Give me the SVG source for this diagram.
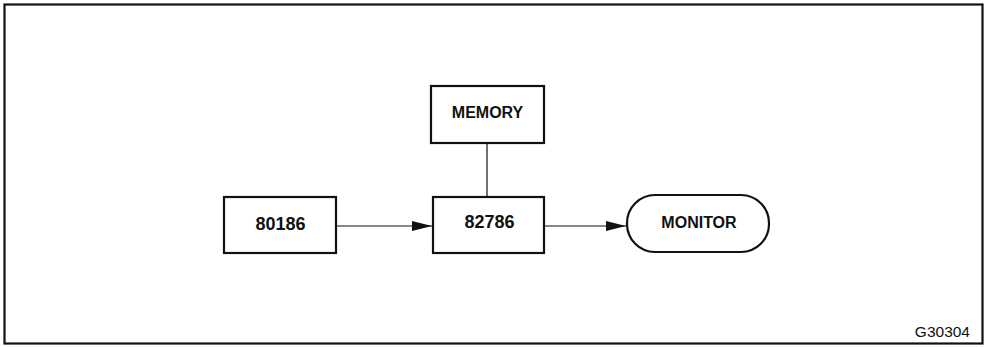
<svg xmlns="http://www.w3.org/2000/svg" width="986" height="347" viewBox="0 0 986 347">
<style>
.box{fill:#fff;stroke:#111;stroke-width:2.2}
.lbl{font-family:"Liberation Sans",Arial,sans-serif;font-weight:bold;font-size:16px;fill:#111;text-anchor:middle}
.num{font-size:18px}
.edge{stroke:#111;stroke-width:1.2;fill:none}
</style>
<defs>
<marker id="arr" markerWidth="20" markerHeight="10" refX="20" refY="5" orient="auto" markerUnits="userSpaceOnUse">
<path d="M0,0 L20,5 L0,10 Z" fill="#111"/>
</marker>
</defs>
<rect x="4.5" y="4.5" width="978" height="339" fill="#fff" stroke="#111" stroke-width="2.2"/>
<g id="connectors">
<line class="edge" x1="487" y1="143" x2="487" y2="197"/>
<line class="edge" x1="336" y1="226" x2="432" y2="226" marker-end="url(#arr)"/>
<line class="edge" x1="544" y1="226" x2="626" y2="226" marker-end="url(#arr)"/>
</g>
<g id="memory">
<rect class="box" x="431" y="86" width="113" height="57"/>
<text class="lbl" x="487.5" y="118">MEMORY</text>
</g>
<g id="n80186">
<rect class="box" x="224" y="197" width="112" height="56"/>
<text class="lbl num" x="280.5" y="230">80186</text>
</g>
<g id="n82786">
<rect class="box" x="433" y="197" width="111" height="56"/>
<text class="lbl num" x="489.5" y="227.5">82786</text>
</g>
<g id="monitor">
<rect class="box" x="627" y="195" width="142" height="57" rx="28" ry="28"/>
<text class="lbl" x="699" y="228">MONITOR</text>
</g>
<text x="970" y="336.5" font-family="'Liberation Sans',Arial,sans-serif" font-size="15.5" fill="#111" text-anchor="end">G30304</text>
</svg>
